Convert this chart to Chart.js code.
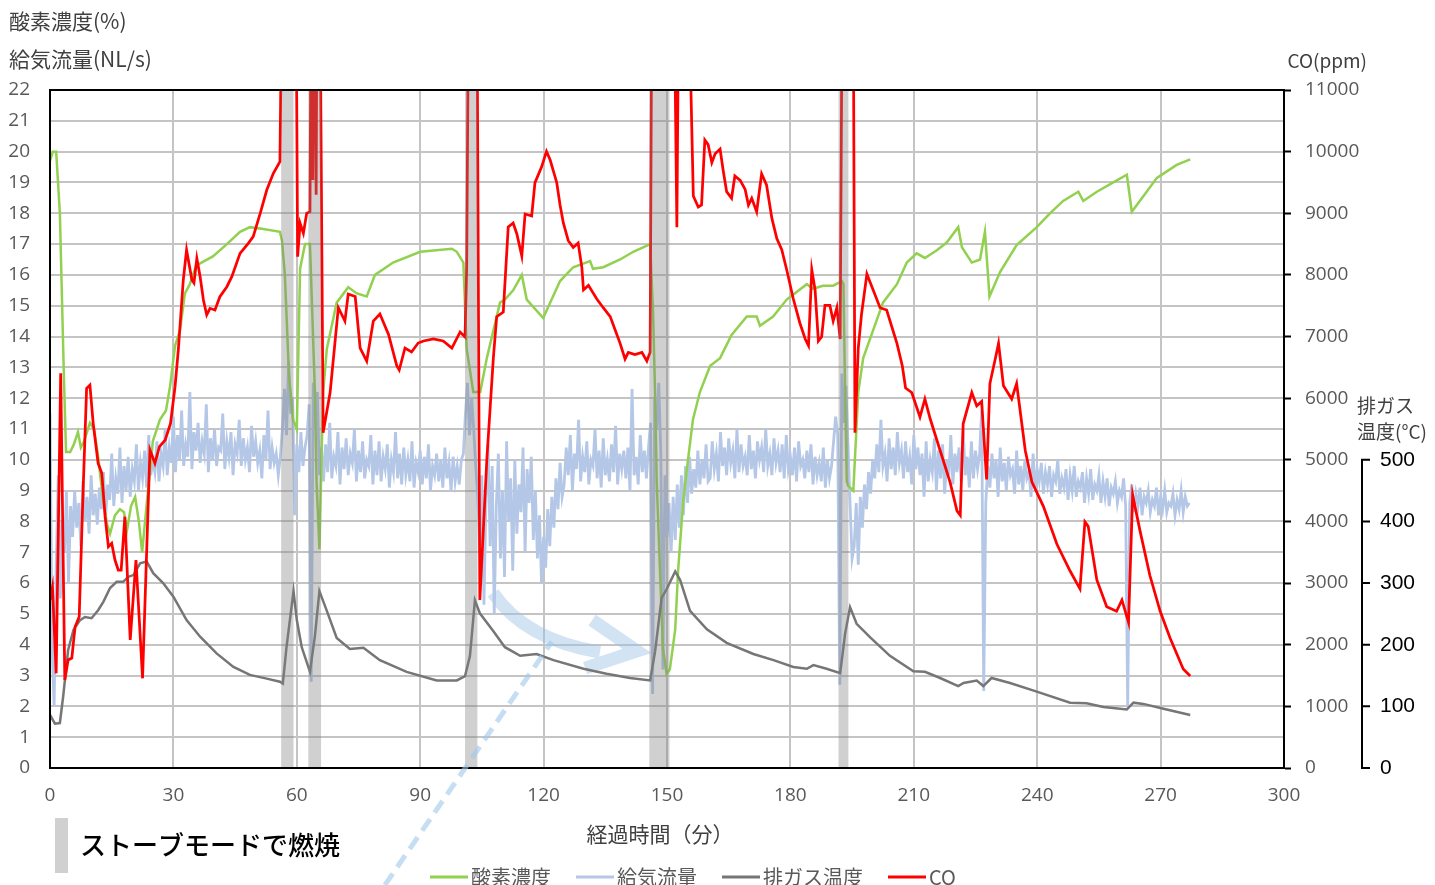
<!DOCTYPE html>
<html>
<head>
<meta charset="utf-8">
<script src="https://cdn.jsdelivr.net/npm/chart.js@4.4.1/dist/chart.umd.min.js"></script>
<style>
  html, body { margin: 0; padding: 0; background: #fff; }
  #wrap { width: 1435px; height: 885px; }
</style>
</head>
<body>
<div id="wrap"><canvas id="chart" width="1435" height="885"></canvas></div>
<script>
// --- values, time in minutes ---
const seriesNames = ['酸素濃度', '給気流量', '排ガス温度', 'CO'];
const seriesColors = ['#92D050', '#B4C7E7', '#767676', '#FF0000'];

// 酸素濃度 (%)
const o2 = [[0,19.7],[0.7,20.0],[1.5,20.0],[2.4,18.0],[3.4,12.6],[3.9,10.25],[4.9,10.25],[5.8,10.5],[6.8,10.9],[7.5,10.4],[8.3,10.6],[9.7,11.2],[10.7,11.0],[11.7,10.1],[12.9,8.7],[13.9,7.9],[14.6,7.6],[15.8,8.2],[17.0,8.4],[18.0,8.3],[18.7,7.7],[19.7,8.5],[20.7,8.8],[21.6,8.0],[22.4,7.0],[23.6,8.7],[25.0,10.6],[26.7,11.3],[28.2,11.6],[29.2,12.4],[30.4,13.7],[31.6,14.2],[32.8,15.4],[34.0,15.7],[35.5,16.3],[39.6,16.6],[43.0,17.0],[46.2,17.4],[48.6,17.55],[51.5,17.5],[55.9,17.4],[56.4,17.1],[57.1,16.0],[58.1,12.75],[59.1,11.3],[60.0,11.0],[60.8,16.2],[62.0,17.0],[63.2,17.0],[63.6,15.4],[64.4,12.2],[64.8,9.3],[65.5,7.1],[66.4,12.2],[67.3,13.6],[69.7,15.1],[72.5,15.6],[74.6,15.4],[77.0,15.3],[79.0,16.0],[83.4,16.4],[90.0,16.75],[97.7,16.85],[98.9,16.75],[100.5,16.4],[101.3,13.6],[102.9,12.2],[104.6,12.2],[106.2,13.3],[107.8,14.2],[109.4,15.1],[110.6,15.2],[112.6,15.5],[114.7,16.0],[115.9,15.2],[119.9,14.6],[124.0,15.8],[127.2,16.25],[131.3,16.45],[132.0,16.2],[134.5,16.25],[138.6,16.5],[141.8,16.75],[145.9,17.0],[146.6,14.8],[147.1,12.2],[147.5,9.3],[148.3,6.4],[149.0,3.9],[149.9,3.05],[150.7,3.2],[152.0,4.5],[152.7,6.4],[153.9,8.6],[155.1,10.0],[156.3,11.3],[158.0,12.2],[160.5,13.05],[162.9,13.3],[165.7,14.05],[169.4,14.65],[171.8,14.65],[172.6,14.35],[175.8,14.65],[179.1,15.2],[184.0,15.7],[185.5,15.55],[187.9,15.65],[190.4,15.65],[192.5,15.8],[192.9,15.7],[193.3,12.2],[193.7,9.3],[194.1,9.15],[195.3,9.0],[196.5,12.2],[197.7,13.3],[200.1,14.2],[202.5,15.1],[205.9,15.7],[208.3,16.4],[210.7,16.7],[212.7,16.55],[215.6,16.8],[218.0,17.05],[220.8,17.55],[221.7,16.9],[224.1,16.4],[226.1,16.5],[227.3,17.4],[228.4,15.3],[231.0,16.1],[235.0,16.97],[239.9,17.55],[243.1,18.0],[246.3,18.4],[250.0,18.7],[251.2,18.4],[254.5,18.7],[258.5,19.0],[261.8,19.25],[263.0,18.05],[265.8,18.55],[269.1,19.15],[273.9,19.57],[277.2,19.75]];

// 給気流量 (NL/s), sampled every half minute, in runs [start, values]
const flowStep = 0.5;
const flowRuns = [
  [0, [11.5,4.0,2.0,6.5,9.5,5.5,8.0,7.0,9.0,6.0,8.5]],
  [5.5, [7.5,9.0,7.8,8.6,7.2,9.3,8.0,8.8,7.6,9.5,8.2,8.9,7.9,9.1]],
  [12.5, [8.4,9.6,8.1,9.2,8.7,10.2,8.5,9.4,8.9,10.4,8.6,9.8,9.0,10.1,8.8,9.7,9.3,10.5,9.0,9.9,9.4,10.3,9.1,10.8,9.5,10.0]],
  [25.5, [9.6,10.6,9.3,10.2,9.8,11.0,9.5,10.4,9.9,11.4]],
  [30.5, [9.6,10.8,10.0,11.6,9.8,10.5,10.1,12.2,9.7,10.9,10.3,11.2,9.9,10.6,10.2,11.8,9.6,10.7,10.0,11.0,9.8,10.4,10.3,11.5,9.7,10.6,10.1,10.9,9.5,10.5,10.2,11.3,9.8,10.7,10.0,10.4,9.6,11.1,10.1,10.6,9.9,10.3,9.4,10.8,10.0,11.6,9.7,10.4,9.9,10.2,9.5,10.1]],
  [56.5, [11.0,12.3,10.8,13.2,11.5,12.0,8.2,10.5]],
  [60.5, [9.6,10.9,9.8,10.4,10.8,11.8,2.8,12.5,11.0,12.2,9.5,10.4]],
  [66.5, [9.3,10.5,9.6,11.2,9.4,10.1,9.8,10.9,9.2,10.4,9.7,10.7,9.5,10.2,9.9,11.0,9.3,10.3,9.6,10.6,9.4,10.0,9.8,10.8,9.2,10.3,9.5,10.6,9.3,10.1,9.7,10.5,9.1,10.0,9.6,10.9,9.4,10.2,9.2,10.4,9.5,10.0,9.3,10.6,9.1,9.9,9.6,10.3,9.2,10.1,9.4,10.5,9.0,9.8,9.5,10.2,9.3,10.0,9.1,10.4,9.4,9.9,9.0,10.1,9.3,9.8,9.2,10.0]],
  [100.5, [10.2,11.5,12.5,10.8,12.0,11.0,9.8,8.8]],
  [104.5, [7.0,9.5,5.3,8.8,10.5,7.2,9.8,5.0,8.5,10.2,6.8,9.0,6.2,10.6,8.0,9.4,6.4,10.0,7.6,9.2,8.3,10.4,7.0,9.7,8.6,10.1,7.4,9.0,6.8,8.2,6.0,7.5]],
  [120.5, [6.5,8.4,7.2,8.8,7.8,9.4,8.4,9.9,8.8]],
  [125, [9.2,10.4,9.5,10.8,9.0,10.2,9.7,11.3,9.3,10.1,9.6,10.6,9.2,10.0,9.8,11.0,9.4,10.3,9.1,10.7,9.5,10.0,9.3,10.5,9.6,11.1,9.2,10.2,9.7,10.3,9.4,10.4,9.0,12.3,9.5,10.1,9.2,10.8,9.6,10.3,9.4]],
  [145.5, [10.4,11.2,2.4,12.0,11.0,12.5,10.2,3.2,9.5,7.5,8.6,7.0]],
  [151.5, [8.8,7.4,9.2,7.8,9.5,8.2,9.8,8.6,10.1,8.9,9.7,9.1,10.3,9.2,10.0,9.4,10.5,9.3]],
  [160.5, [9.4,10.6,9.7,10.2,9.3,10.9,9.8,10.4,9.5,10.7,9.9,10.3,9.4,11.0,9.6,10.5,9.8,10.1,9.5,10.8,9.7,10.3,9.4,10.6,10.0,10.4,9.6,11.0,9.8,10.2,9.5,10.7,9.9,10.3,9.6,10.5,9.4,10.8,9.7,10.1,9.5,10.4,9.3,10.6,9.8,10.0,9.4,10.3,9.6,10.5,9.2,10.1,9.5,9.9,9.3,10.4,9.1,10.0,9.4,9.8]],
  [190.5, [10.6,11.4,10.8,2.7,12.8,11.2,12.4,10.5,8.6,6.8]],
  [195.5, [7.2,8.6,6.6,8.8,7.8,9.2,8.4,9.6,8.9,10.0]],
  [200.5, [9.4,10.5,9.6,11.3,9.8,10.2,9.3,10.7,9.7,10.4,9.5,10.9,9.9,10.3,9.4,10.6,9.6,10.1,9.2,10.8,9.7,10.4,9.5,10.2,8.8,10.6,9.3,10.0,9.6,10.7,9.0,10.3,9.4,10.5,8.9,10.0,9.5,10.8,9.2,10.2,9.6,10.4,9.3,11.0,9.5,10.1,9.1,10.6,9.4,10.3,9.7,10.2]],
  [226.5, [11.6,2.5]],
  [227.5, [8.6,9.8,9.1,10.2,9.4,10.0,8.8,10.4,9.3,9.9,9.0,10.1,9.5,9.7,8.9,10.3,9.2,9.8,9.0,10.0,9.4,9.6,8.8,10.2,9.1,9.7,9.3,9.9,8.9,9.6,9.2,9.8,8.8,9.5,9.3,10.0,8.9,9.4,9.1,9.7,8.7,9.5,9.0,9.8,8.8,9.3,9.1,9.6,8.6,9.4,8.9,9.7,8.7,9.2,9.0,9.5,8.6,9.3,8.8,9.4,8.5,9.1,8.9,9.3,8.6,9.0,8.8,9.4,8.5]],
  [262, [2.0]],
  [262.5, [8.6,9.2,8.3,8.9,8.5,9.1,8.2,8.8,8.6,9.0,8.3,8.7,8.5,9.1,8.2,8.8,8.4,9.0,8.3,8.6,8.5,8.9,8.2,8.7,8.4,9.0,8.3,8.8,8.5,8.6]]
];

// 排ガス温度 (°C)
const exhaustTemp = [[0,86],[1.2,72],[2.4,73],[3.2,116],[4.4,191],[5.7,224],[7.3,240],[8.5,245],[10.1,243],[11.7,256],[13.0,270],[14.6,292],[16.2,302],[17.8,302],[19.0,310],[20.3,313],[21.9,332],[23.5,335],[25.1,316],[27.5,300],[30.0,278],[33.2,240],[36.5,213],[40.5,186],[44.6,164],[48.6,151],[52.7,145],[55.9,140],[56.6,137],[57.5,196],[59.2,287],[60.0,240],[61.2,196],[63.2,156],[64.4,214],[65.5,287],[67.3,255],[69.7,211],[72.9,193],[76.2,195],[80.2,175],[86.7,156],[94.0,142],[98.9,142],[100.9,149],[102.1,182],[103.3,272],[104.5,251],[107.8,222],[110.6,196],[114.3,182],[118.3,185],[122.4,175],[129.7,161],[135.3,153],[141.0,146],[145.9,142],[147.1,189],[148.7,276],[149.9,290],[152.0,319],[153.2,305],[155.6,255],[159.7,225],[164.5,203],[171.0,185],[175.9,175],[180.7,164],[184.0,161],[185.6,167],[188.8,161],[192.1,154],[193.3,218],[194.5,261],[196.1,234],[199.4,212],[204.2,182],[209.9,157],[212.7,156],[216.4,146],[220.8,133],[222.1,138],[225.3,142],[226.9,133],[228.9,146],[233.4,138],[239.9,124],[248.0,106],[252.0,105],[256.1,99],[261.8,95],[263.4,106],[265.8,104],[270.7,96],[277.2,86]];

// CO (ppm); 14000 = off the top of the scale
const co = [[0,2726],[0.6,2940],[1.5,1536],[2.6,6403],[3.6,1428],[4.4,1752],[5.3,1784],[6.1,2292],[7.1,2455],[8.0,4402],[8.9,6160],[9.7,6214],[10.5,5592],[11.7,4943],[12.6,4781],[13.4,4077],[14.2,3590],[15.0,3645],[15.8,3374],[16.6,3212],[17.3,3212],[18.2,4077],[19.5,2077],[20.9,3374],[22.5,1455],[24.3,5159],[25.5,4943],[26.6,5213],[28.0,5321],[29.3,5592],[30.4,6186],[31.2,6782],[32.4,7917],[33.2,8404],[34.5,7917],[35.0,7868],[35.7,8269],[36.5,7971],[37.3,7593],[38.1,7350],[38.9,7458],[40.1,7431],[41.3,7647],[43.0,7809],[44.2,7971],[46.2,8350],[48.2,8513],[49.4,8620],[51.1,8999],[52.7,9377],[54.3,9648],[55.9,9837],[56.6,14000],[59.7,14000],[60.2,8296],[60.8,8837],[61.6,8675],[62.4,8999],[63.2,9026],[63.6,14000],[63.9,9540],[64.3,14000],[64.7,9300],[65.0,14000],[65.5,14000],[66.4,5440],[68.1,6092],[70.1,7468],[71.7,7252],[72.5,7690],[74.2,7649],[75.4,6814],[77.0,6603],[78.6,7252],[80.2,7366],[82.3,7033],[84.3,6527],[84.9,6457],[86.3,6814],[87.9,6749],[89.5,6895],[90.8,6928],[93.2,6960],[95.6,6928],[97.7,6814],[99.7,7074],[100.9,6993],[101.3,8120],[101.9,14000],[103.7,14000],[104.5,2726],[106.2,5005],[107.8,6668],[108.6,7323],[110.2,7398],[111.4,8777],[112.6,8842],[113.5,8664],[114.7,8307],[115.5,8988],[117.1,8956],[117.9,9496],[119.5,9750],[120.7,10004],[121.6,9864],[123.2,9496],[124.0,9134],[124.8,8844],[126.0,8555],[127.2,8446],[128.4,8518],[129.3,8120],[129.7,7758],[130.9,7830],[132.9,7613],[134.5,7468],[136.2,7324],[137.4,7106],[138.6,6889],[139.8,6636],[140.6,6744],[142.2,6708],[143.9,6744],[145.1,6603],[145.9,6744],[146.4,14000],[151.5,14000],[152.4,8772],[153.0,14000],[154.8,14000],[156.4,9280],[157.6,9101],[158.4,9134],[159.2,10189],[160.0,10113],[160.9,9822],[161.7,9966],[162.9,10042],[163.7,9677],[164.5,9351],[165.7,9243],[166.5,9605],[167.8,9533],[169.0,9387],[169.8,9134],[170.6,9243],[171.8,9026],[173.0,9641],[174.2,9459],[175.5,8917],[176.7,8591],[177.9,8411],[179.1,8084],[180.7,7613],[182.3,7220],[183.6,6960],[184.4,6853],[185.2,8084],[186.0,7758],[186.8,6928],[187.6,6997],[188.4,7505],[189.6,7505],[190.4,7252],[191.3,7468],[192.1,6960],[192.7,14000],[195.2,14000],[195.7,5440],[196.5,6814],[197.3,7366],[198.6,8015],[201.8,7468],[203.4,7431],[205.9,6889],[207.2,6527],[208.0,6165],[209.5,6092],[211.5,5694],[212.7,5987],[214.0,5662],[216.4,5151],[218.8,4643],[220.5,4173],[221.3,4101],[222.0,5585],[224.1,6092],[225.3,5875],[226.5,5948],[227.7,4681],[228.5,6237],[229.8,6636],[230.6,6889],[231.8,6201],[233.8,5987],[235.0,6237],[237.1,5151],[238.7,4643],[241.5,4246],[244.8,3629],[248.0,3196],[250.4,2906],[251.6,3993],[252.4,3920],[254.5,3050],[256.9,2615],[259.3,2543],[260.6,2726],[262.2,2362],[263.2,4429],[265.0,3847],[267.4,3123],[269.9,2543],[272.3,2109],[275.5,1606],[277.2,1493]];

// ストーブモード periods (minutes)
const stoveStart = [56.2, 62.8, 100.9, 145.7, 191.7];
const stoveEnd = [59.2, 65.9, 103.9, 150.6, 194.1];

const tempTicks = [0, 100, 200, 300, 400, 500];

// annotations, in (minutes, left-axis units)
const dashFrom = [81.4, -3.8], dashTo = [122.0, 4.1];
const arrowBody = [[107.7, 5.68], [115.5, 4.15], [133.7, 3.76]];
const arrowHead = [[131.8, 4.8], [142.7, 3.8], [130.1, 3.24]];

// --- build datasets ---
const toXY = arr => arr.map(([x, y]) => ({ x, y }));

const flowPts = [];
flowRuns.forEach(([start, vals], r) => {
    const next = r + 1 < flowRuns.length ? flowRuns[r + 1][0] : Infinity;
    vals.forEach((v, i) => {
        const t = start + i * flowStep;
        if (t < next - 1e-6) flowPts.push({ x: t, y: v });
    });
});

const lineBase = { pointRadius: 0, tension: 0, fill: false };

Chart.defaults.font.family = '"Open Sans", sans-serif';
Chart.defaults.font.size = 19;

const JP = '"Noto Sans CJK JP", sans-serif';

const decor = {
    id: 'decor',
    beforeDatasetsDraw(chart) {
        const { ctx, scales: { x, y } } = chart;
        const p = pt => [x.getPixelForValue(pt[0]), y.getPixelForValue(pt[1])];
        // curved arrow
        ctx.save();
        ctx.strokeStyle = 'rgba(155,194,230,0.45)';
        ctx.lineWidth = 13;
        ctx.lineJoin = 'miter';
        ctx.beginPath();
        const [a0, a1, a2] = arrowBody.map(p);
        ctx.moveTo(a0[0], a0[1]);
        ctx.quadraticCurveTo(a1[0], a1[1], a2[0], a2[1]);
        const [h0, h1, h2] = arrowHead.map(p);
        ctx.moveTo(h0[0], h0[1]);
        ctx.lineTo(h1[0], h1[1]);
        ctx.lineTo(h2[0], h2[1]);
        ctx.stroke();
        ctx.restore();
    },
    afterDatasetsDraw(chart) {
        const { ctx, chartArea: ca, scales: { x } } = chart;
        ctx.save();
        ctx.fillStyle = 'rgba(128,128,128,0.37)';
        stoveStart.forEach((s, i) => {
            const x0 = x.getPixelForValue(s), x1 = x.getPixelForValue(stoveEnd[i]);
            ctx.fillRect(x0, ca.top, x1 - x0, ca.bottom - ca.top);
        });
        ctx.strokeStyle = '#000';
        ctx.lineWidth = 2;
        ctx.strokeRect(ca.left, ca.top, ca.right - ca.left, ca.bottom - ca.top);
        ctx.restore();
    },
    afterDraw(chart) {
        const { ctx, scales: { x, y, yT } } = chart;
        ctx.save();

        // dashed pointer line
        ctx.strokeStyle = 'rgba(160,200,235,0.6)';
        ctx.lineWidth = 5;
        ctx.setLineDash([14, 8]);
        ctx.beginPath();
        ctx.moveTo(x.getPixelForValue(dashFrom[0]), y.getPixelForValue(dashFrom[1]));
        ctx.lineTo(x.getPixelForValue(dashTo[0]), y.getPixelForValue(dashTo[1]));
        ctx.stroke();
        ctx.setLineDash([]);

        // axis titles
        ctx.fillStyle = '#404040';
        ctx.textBaseline = 'middle';
        ctx.font = '21px ' + JP;
        ctx.textAlign = 'left';
        ctx.fillText('酸素濃度(%)', 9, 21);
        ctx.fillText('給気流量(NL/s)', 9, 59);
        ctx.font = '19px ' + JP;
        ctx.textAlign = 'right';
        ctx.fillText('CO(ppm)', 1367, 61);
        ctx.textAlign = 'left';
        ctx.fillText('排ガス', 1357, 406);
        ctx.fillText('温度(°C)', 1357, 432);
        ctx.font = '21px ' + JP;
        ctx.textAlign = 'center';
        ctx.fillText('経過時間（分）', 660, 834);

        // exhaust temperature axis
        const ax = 1362;
        ctx.strokeStyle = '#000';
        ctx.lineWidth = 2;
        ctx.beginPath();
        ctx.moveTo(ax, yT.getPixelForValue(0));
        ctx.lineTo(ax, yT.getPixelForValue(tempTicks[tempTicks.length - 1]));
        tempTicks.forEach(v => {
            const py = yT.getPixelForValue(v);
            ctx.moveTo(ax - 1, py);
            ctx.lineTo(ax + 8, py);
        });
        ctx.stroke();
        ctx.fillStyle = '#000';
        ctx.font = '21px "Liberation Sans", Arial, sans-serif';
        ctx.textAlign = 'left';
        tempTicks.forEach(v => ctx.fillText(String(v), ax + 18, yT.getPixelForValue(v)));

        // legend
        let lx = 430;
        const ly = 877;
        ctx.font = '20px ' + JP;
        chart.data.datasets.forEach(ds => {
            ctx.strokeStyle = ds.borderColor;
            ctx.lineWidth = 3;
            ctx.beginPath();
            ctx.moveTo(lx, ly);
            ctx.lineTo(lx + 38, ly);
            ctx.stroke();
            ctx.fillStyle = '#595959';
            ctx.fillText(ds.label, lx + 41, ly);
            lx += 41 + ctx.measureText(ds.label).width + 25;
        });

        // stove-mode key
        ctx.fillStyle = '#D0D0D0';
        ctx.fillRect(55, 818, 13, 55);
        ctx.fillStyle = '#000';
        ctx.font = '500 26px ' + JP;
        ctx.fillText('ストーブモードで燃焼', 80, 845);
        ctx.restore();
    }
};

new Chart(document.getElementById('chart'), {
    type: 'line',
    data: {
        datasets: [
            { ...lineBase, label: seriesNames[0], data: toXY(o2), yAxisID: 'y', borderColor: seriesColors[0], borderWidth: 2.5, order: 2 },
            { ...lineBase, label: seriesNames[1], data: flowPts, yAxisID: 'y', borderColor: seriesColors[1], borderWidth: 2.8, order: 3 },
            { ...lineBase, label: seriesNames[2], data: toXY(exhaustTemp), yAxisID: 'yT', borderColor: seriesColors[2], borderWidth: 2.5, order: 1 },
            { ...lineBase, label: seriesNames[3], data: toXY(co), yAxisID: 'yCO', borderColor: seriesColors[3], borderWidth: 2.75, order: 0 }
        ]
    },
    options: {
        responsive: false,
        devicePixelRatio: 1,
        animation: false,
        layout: { padding: { top: 90, left: 0, right: 0, bottom: 0 } },
        plugins: { legend: { display: false }, tooltip: { enabled: false } },
        scales: {
            x: {
                type: 'linear', position: 'bottom', min: 0, max: 300,
                ticks: { stepSize: 30, color: '#595959', padding: 16, autoSkip: false, maxRotation: 0 },
                grid: { color: '#c4c4c4', lineWidth: 2, drawTicks: false },
                border: { color: '#000', width: 2 },
                afterFit: s => { s.height = 117; }
            },
            y: {
                position: 'left', min: 0, max: 22,
                ticks: { stepSize: 1, color: '#595959', padding: 20, autoSkip: false },
                grid: { color: '#c4c4c4', lineWidth: 2, drawTicks: false },
                border: { color: '#000', width: 2 },
                afterFit: s => { s.width = 50; }
            },
            yCO: {
                position: 'right', min: 0, max: 11000,
                ticks: { stepSize: 1000, color: '#595959', padding: 14, autoSkip: false, callback: v => String(v) },
                grid: { drawOnChartArea: false, drawTicks: true, tickLength: 7, tickColor: '#000', tickWidth: 2 },
                border: { color: '#000', width: 2 },
                afterFit: s => { s.width = 151; }
            },
            yT: { position: 'right', min: 0, max: 1100, display: false }
        }
    },
    plugins: [decor]
});
</script>
</body>
</html>
